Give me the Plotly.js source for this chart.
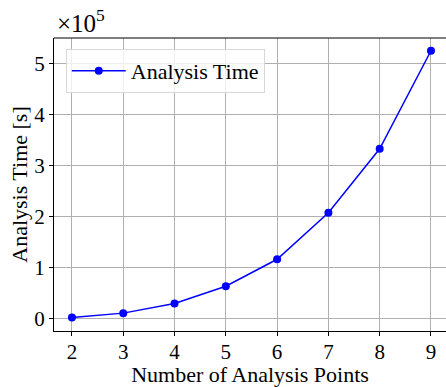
<!DOCTYPE html>
<html><head><meta charset="utf-8">
<script src="https://cdn.plot.ly/plotly-3.0.1.min.js"></script>
<style>body{margin:0;padding:0;background:#fff}#chart{width:446px;height:387px}</style>
</head><body><div id="chart"></div>
<script>
const points = [2, 3, 4, 5, 6, 7, 8, 9];
const analysisTime = [2500, 11000, 30000, 63700, 116500, 207600, 333000, 525000];
const yTickVals = [0, 100000, 200000, 300000, 400000, 500000];
const yTickText = ['0', '1', '2', '3', '4', '5'];
const seriesName = 'Analysis Time';

const font = 'Liberation Serif, Times New Roman, serif';
const fs = 22;
const tfs = 21;
const trace = {
  x: points, y: analysisTime, name: seriesName, type: 'scatter', mode: 'lines+markers',
  line: {color: '#0000ff', width: 1.5}, marker: {color: '#0000ff', size: 8}
};
const layout = {
  width: 446, height: 387,
  margin: {l: 54, r: 0, t: 38, b: 56},
  paper_bgcolor: '#fff', plot_bgcolor: '#fff',
  font: {family: font, size: fs, color: '#000'},
  showlegend: true,
  legend: {x: 0.03, y: 0.963, xanchor: 'left', yanchor: 'top', bgcolor: 'rgba(255,255,255,0.8)',
           bordercolor: '#d8d8d8', borderwidth: 1, itemwidth: 54, font: {family: font, size: fs}},
  xaxis: {range: [1.65, 9.293], tickvals: points, showgrid: true, gridcolor: '#b0b0b0', gridwidth: 1,
          zeroline: false, showline: true, linecolor: '#000', linewidth: 1, ticks: 'outside', ticklen: 4,
          tickcolor: '#000', tickfont: {family: font, size: tfs}, ticklabelstandoff: -2,
          title: {text: 'Number of Analysis Points', font: {family: font, size: fs}, standoff: 1}},
  yaxis: {range: [-24000, 550000], tickvals: yTickVals, ticktext: yTickText, showgrid: true,
          gridcolor: '#b0b0b0', gridwidth: 1, zeroline: false, showline: true, linecolor: '#000',
          linewidth: 1, ticks: 'outside', ticklen: 4, tickcolor: '#000', tickfont: {family: font, size: tfs},
          title: {text: 'Analysis Time [s]', font: {family: font, size: fs}, standoff: 0}},
  shapes: [{type: 'line', xref: 'paper', yref: 'paper', x0: 0, x1: 1, y0: 1, y1: 1,
            line: {color: '#000', width: 1}}],
  annotations: [{xref: 'paper', yref: 'paper', x: 0, y: 1, xanchor: 'left', yanchor: 'bottom',
                 xshift: 1, yshift: -1, showarrow: false, text: '×10<sup>5</sup>', font: {family: font, size: 25}}]
};
Plotly.newPlot('chart', [trace], layout, {displayModeBar: false, staticPlot: true});
</script></body></html>
